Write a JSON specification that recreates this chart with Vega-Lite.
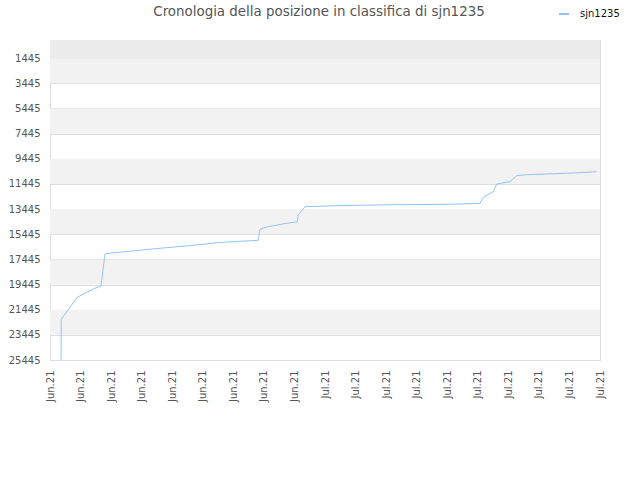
{
  "$schema": "https://vega.github.io/schema/vega-lite/v6.json",
  "description": "Cronologia della posizione in classifica di sjn1235",
  "width": 550,
  "height": 320,
  "autosize": "none",
  "padding": {"left": 50, "top": 40, "right": 40, "bottom": 120},
  "background": "white",
  "title": {
    "text": "Cronologia della posizione in classifica di sjn1235",
    "anchor": "middle",
    "frame": "group",
    "dx": -6,
    "offset": -10,
    "fontSize": 13.4,
    "fontWeight": "normal",
    "font": "DejaVu Sans",
    "color": "#555555"
  },
  "datasets": {
    "bands": [
      {"da": 0, "a": 1445, "kind": "top"},
      {"da": 1445, "a": 3445, "kind": "pari"},
      {"da": 5445, "a": 7445, "kind": "pari"},
      {"da": 9445, "a": 11445, "kind": "pari"},
      {"da": 13445, "a": 15445, "kind": "pari"},
      {"da": 17445, "a": 19445, "kind": "pari"},
      {"da": 21445, "a": 23445, "kind": "pari"}
    ],
    "posizioni": [
      {"data": "2021-06-06T02:00", "posizione": 25445, "utente": "sjn1235"},
      {"data": "2021-06-06T02:30", "posizione": 22210, "utente": "sjn1235"},
      {"data": "2021-06-06T23:00", "posizione": 21256, "utente": "sjn1235"},
      {"data": "2021-06-07T15:00", "posizione": 20492, "utente": "sjn1235"},
      {"data": "2021-06-08T06:30", "posizione": 20198, "utente": "sjn1235"},
      {"data": "2021-06-09T06:00", "posizione": 19800, "utente": "sjn1235"},
      {"data": "2021-06-10T00:15", "posizione": 19562, "utente": "sjn1235"},
      {"data": "2021-06-10T09:36", "posizione": 16994, "utente": "sjn1235"},
      {"data": "2021-06-12T01:00", "posizione": 16858, "utente": "sjn1235"},
      {"data": "2021-06-15T07:30", "posizione": 16596, "utente": "sjn1235"},
      {"data": "2021-06-18T14:00", "posizione": 16357, "utente": "sjn1235"},
      {"data": "2021-06-21T20:40", "posizione": 16087, "utente": "sjn1235"},
      {"data": "2021-06-25T10:48", "posizione": 15928, "utente": "sjn1235"},
      {"data": "2021-06-25T15:00", "posizione": 15029, "utente": "sjn1235"},
      {"data": "2021-06-26T10:20", "posizione": 14846, "utente": "sjn1235"},
      {"data": "2021-06-28T05:45", "posizione": 14576, "utente": "sjn1235"},
      {"data": "2021-06-29T06:45", "posizione": 14449, "utente": "sjn1235"},
      {"data": "2021-06-29T09:00", "posizione": 13916, "utente": "sjn1235"},
      {"data": "2021-06-30T01:00", "posizione": 13256, "utente": "sjn1235"},
      {"data": "2021-07-02T23:30", "posizione": 13176, "utente": "sjn1235"},
      {"data": "2021-07-08T17:00", "posizione": 13097, "utente": "sjn1235"},
      {"data": "2021-07-14T10:30", "posizione": 13065, "utente": "sjn1235"},
      {"data": "2021-07-17T05:15", "posizione": 12986, "utente": "sjn1235"},
      {"data": "2021-07-17T13:00", "posizione": 12509, "utente": "sjn1235"},
      {"data": "2021-07-18T12:30", "posizione": 12063, "utente": "sjn1235"},
      {"data": "2021-07-18T20:40", "posizione": 11451, "utente": "sjn1235"},
      {"data": "2021-07-20T03:50", "posizione": 11268, "utente": "sjn1235"},
      {"data": "2021-07-20T19:40", "posizione": 10791, "utente": "sjn1235"},
      {"data": "2021-07-21T19:12", "posizione": 10711, "utente": "sjn1235"},
      {"data": "2021-07-25T17:30", "posizione": 10600, "utente": "sjn1235"},
      {"data": "2021-07-28T16:20", "posizione": 10473, "utente": "sjn1235"}
    ]
  },
  "layer": [
    {
      "data": {"name": "bands"},
      "mark": {"type": "rect", "clip": true},
      "encoding": {
        "y": {
          "field": "da",
          "type": "quantitative",
          "title": null,
          "scale": {"domain": [0, 25445], "reverse": true, "nice": false, "zero": false},
          "axis": {
            "values": [1445, 3445, 5445, 7445, 9445, 11445, 13445, 15445, 17445, 19445, 21445, 23445, 25445],
            "tickCount": 20,
            "format": "d",
            "ticks": false,
            "domain": false,
            "grid": true,
            "gridColor": "#dddddd",
            "gridWidth": 1,
            "labelPadding": 10,
            "labelFont": "DejaVu Sans",
            "labelFontSize": 10,
            "labelColor": "#555555",
            "labelOverlap": false,
            "labelFlush": false
          }
        },
        "y2": {"field": "a"},
        "color": {
          "field": "kind",
          "type": "nominal",
          "scale": {"domain": ["top", "pari"], "range": ["#ececec", "#f2f2f2"]},
          "legend": null
        }
      }
    },
    {
      "data": {"name": "posizioni"},
      "mark": {"type": "line", "strokeWidth": 1, "clip": true},
      "encoding": {
        "x": {
          "field": "data",
          "type": "temporal",
          "title": null,
          "scale": {
            "domain": [
              {"year": 2021, "month": 6, "date": 5},
              {"year": 2021, "month": 7, "date": 29}
            ],
            "nice": false
          },
          "axis": {
            "values": [
              {"year": 2021, "month": 6, "date": 5},
              {"year": 2021, "month": 6, "date": 8},
              {"year": 2021, "month": 6, "date": 11},
              {"year": 2021, "month": 6, "date": 14},
              {"year": 2021, "month": 6, "date": 17},
              {"year": 2021, "month": 6, "date": 20},
              {"year": 2021, "month": 6, "date": 23},
              {"year": 2021, "month": 6, "date": 26},
              {"year": 2021, "month": 6, "date": 29},
              {"year": 2021, "month": 7, "date": 2},
              {"year": 2021, "month": 7, "date": 5},
              {"year": 2021, "month": 7, "date": 8},
              {"year": 2021, "month": 7, "date": 11},
              {"year": 2021, "month": 7, "date": 14},
              {"year": 2021, "month": 7, "date": 17},
              {"year": 2021, "month": 7, "date": 20},
              {"year": 2021, "month": 7, "date": 23},
              {"year": 2021, "month": 7, "date": 26},
              {"year": 2021, "month": 7, "date": 29}
            ],
            "format": "%b.%y",
            "labelAngle": -90,
            "labelAlign": "right",
            "labelBaseline": "middle",
            "labelPadding": 10,
            "labelOverlap": false,
            "labelFlush": false,
            "ticks": false,
            "grid": false,
            "domain": false,
            "labelFont": "DejaVu Sans",
            "labelFontSize": 10,
            "labelColor": "#555555"
          }
        },
        "y": {
          "field": "posizione",
          "type": "quantitative"
        },
        "color": {
          "field": "utente",
          "type": "nominal",
          "scale": {"domain": ["sjn1235"], "range": ["#93c5f4"]},
          "legend": {
            "title": null,
            "orient": "none",
            "legendX": 508,
            "legendY": -32,
            "symbolType": "stroke",
            "symbolStrokeWidth": 2,
            "symbolSize": 100,
            "labelFont": "DejaVu Sans",
            "labelFontSize": 10,
            "labelColor": "#111111",
            "labelOffset": 10
          }
        }
      }
    }
  ],
  "resolve": {"scale": {"color": "independent"}},
  "config": {
    "view": {"stroke": "#dddddd", "strokeWidth": 1},
    "axisY": {"labelOverlap": false}
  }
}
